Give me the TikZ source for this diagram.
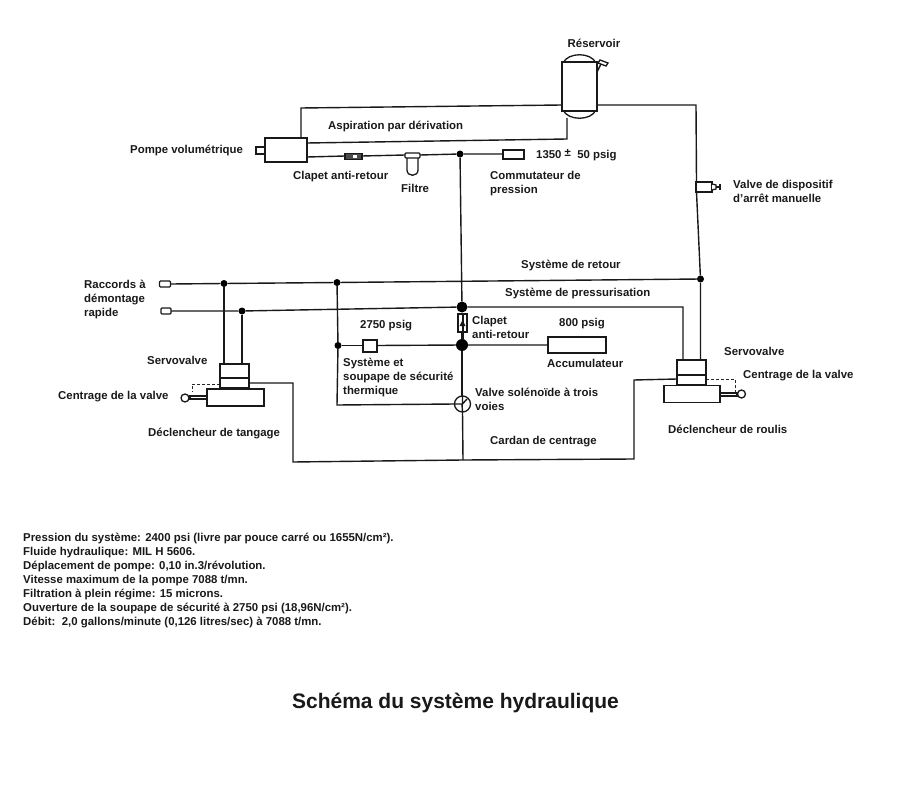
\documentclass[tikz,border=0pt]{standalone}
\usepackage{fontspec}
\setmainfont{Liberation Sans}
\begin{document}
\begin{tikzpicture}[x=1pt,y=-1pt,
  lab/.style={font=\fontsize{11.4}{14}\bfseries\selectfont,anchor=west,align=left,inner sep=0pt,text=black!90,yshift=-1pt},
  labc/.style={lab,anchor=center,align=center},
  pipe/.style={line width=1.4pt,draw=black!90},
  comp/.style={draw=black!90,line width=1.3pt,fill=white,inner sep=0pt},
  jdot/.style={circle,fill=black,inner sep=0pt,minimum size=#1},
  dashpipe/.style={line width=1pt,draw=black!85,dash pattern=on 3pt off 2pt}]
\useasboundingbox (0,0) rectangle (910,786);

% --- junction points
\coordinate (resL) at (562,105);
\coordinate (resR) at (597,105);
\coordinate (resB) at (567,118);
\coordinate (corner1) at (301,108);
\coordinate (corner2) at (567,139);
\coordinate (corner3) at (696,105);
\coordinate (pumpT) at (301,138);
\coordinate (pumpR1) at (307,143);
\coordinate (pumpR2) at (307,157);
\coordinate (retE) at (700.5,279);
\coordinate (preE) at (683,307);
\coordinate (tl) at (293,383);
\coordinate (tb) at (293,462);
\coordinate (rl) at (634,380);
\coordinate (rb) at (634,459);
\coordinate (bm) at (463,460);
\coordinate (svc) at (337,405);
\coordinate (dashA) at (192,384);
\coordinate (dashB) at (192,392);
\coordinate (dashC) at (735,379);
\coordinate (dashD) at (735,392);
\coordinate (dashE) at (220,384);
\coordinate (dashF) at (706,379);

% --- junction dots
\node[jdot=7pt] (j1) at (460,154) {};
\node[jdot=11pt] (j2) at (462,307) {};
\node[jdot=12pt] (j3) at (462,345) {};
\node[jdot=7pt] (j4) at (224,283.5) {};
\node[jdot=7pt] (j5) at (337,282.5) {};
\node[jdot=7pt] (j6) at (242,311) {};
\node[jdot=7pt] (j7) at (338,345.5) {};
\node[jdot=7pt] (j8) at (700.5,279) {};

% --- pipes
\draw[pipe] (pumpT) -- (corner1) -- (resL);
\draw[pipe] (resR) -- (corner3) -- (696.5,182);
\draw[pipe] (696.5,192) -- (j8) -- (700.5,360);
\draw[pipe] (pumpR1) -- (corner2) -- (resB);
\draw[pipe] (pumpR2) -- (345,156);
\draw[pipe] (362,156) -- (405,155);
\draw[pipe] (420,155) -- (j1) -- (503,154);
\draw[pipe] (j1) -- (j2);
\draw[pipe] (j2) -- (j3);
\draw[pipe] (171,284) -- (j4) -- (j5) -- (retE);
\draw[pipe] (171,311) -- (j6) -- (j2) -- (preE) -- (683,360);
\draw[pipe] (j4) -- (224,364);
\draw[pipe] (j6) -- (242,364);
\draw[pipe] (j5) -- (j7) -- (svc) -- (455,404);
\draw[pipe] (j7) -- (363,345.5);
\draw[pipe] (377,345.5) -- (j3) -- (548,345);
\draw[pipe] (j3) -- (462,396);
\draw[pipe] (462.5,412) -- (bm);
\draw[pipe] (249,383) -- (tl) -- (tb) -- (bm) -- (rb) -- (rl) -- (677,379);
\draw[dashpipe] (dashE) -- (dashA) -- (dashB);
\draw[dashpipe] (dashF) -- (dashC) -- (dashD);

% --- reservoir
\draw[comp] (563,63) .. controls (568,52) and (591,52) .. (596,63) -- cycle;
\draw[comp] (563,110) .. controls (568,121) and (591,121) .. (596,110) -- cycle;
\node[comp,minimum width=35pt,minimum height=49pt] (res) at (579.5,86.5) {};
\draw[pipe] (597,72) -- (602,62);
\draw[comp] (600,60) -- (608,63) -- (606,66) -- (598,63) -- cycle;

% --- pump and line components
\node[comp,minimum width=42pt,minimum height=24pt] (pump) at (286,150) {};
\node[comp,minimum width=9pt,minimum height=7pt] (pumpnub) at (260.5,150.5) {};
\node[comp,fill=black!70,minimum width=17pt,minimum height=6pt] (check1) at (353.5,156.5) {};
\node[fill=white,inner sep=0pt,minimum width=4pt,minimum height=3pt] (check1w) at (355,156.5) {};
\draw[comp] (407,158) -- (407,170) .. controls (407,177) and (418,177) .. (418,170) -- (418,158);
\draw[comp,rounded corners=1pt] (405,153) rectangle (420,158);
\node[comp,minimum width=21pt,minimum height=9pt] (switch) at (513.5,154.5) {};
\node[comp,minimum width=16pt,minimum height=10pt] (shutoff) at (704,187) {};
\draw[comp] (712,184) -- (716,185) -- (716,189) -- (712,190);
\draw[pipe] (716,187) -- (720,187);
\draw[pipe] (720,184) -- (720,190);
\node[comp,minimum width=9pt,minimum height=18pt] (check2) at (462.5,323) {};
\draw[line width=2pt,draw=black!90] (462.5,313) -- (462.5,340);
\fill[black!90] (459.5,326) -- (465.5,326) -- (462.5,320) -- cycle;
\node[comp,minimum width=14pt,minimum height=12pt] (relief) at (370,346) {};
\node[comp,minimum width=58pt,minimum height=16pt] (accu) at (577,345) {};

% --- solenoid valve
\node[comp,circle,minimum size=16pt] (sol) at (462.5,404) {};
\draw[pipe] (455,404) -- (462,404) -- (462.5,412);
\draw[pipe] (462.5,396) -- (462.5,404) -- (467,399);

% --- quick disconnects
\node[comp,rounded corners=1pt,minimum width=11pt,minimum height=6pt] (qd1) at (165,284) {};
\node[comp,rounded corners=1pt,minimum width=10pt,minimum height=6pt] (qd2) at (166,311) {};

% --- left servo
\node[comp,minimum width=29pt,minimum height=14pt] (svlA) at (234.5,371) {};
\node[comp,minimum width=29pt,minimum height=10pt] (svlB) at (234.5,383) {};
\node[comp,minimum width=57pt,minimum height=17pt] (actl) at (235.5,397.5) {};
\draw[comp] (190,396) rectangle (207,399);
\node[comp,circle,minimum size=8pt] (knobl) at (185,398) {};

% --- right servo
\node[comp,minimum width=29pt,minimum height=15pt] (svrA) at (691.5,367.5) {};
\node[comp,minimum width=29pt,minimum height=10pt] (svrB) at (691.5,380) {};
\node[comp,minimum width=56pt,minimum height=17pt] (actr) at (692,394) {};
\draw[comp] (720,393) rectangle (737,396);
\node[comp,circle,minimum size=8pt] (knobr) at (741.5,394) {};

% --- labels
\node[labc] (t1) at (594,42) {Réservoir};
\node[lab] (t2) at (328,126) {Aspiration par dérivation};
\node[lab] (t3) at (130,150) {Pompe volumétrique};
\node[lab] (t4) at (293,176) {Clapet anti-retour};
\node[lab] (t5) at (401,187) {Filtre};
\node[lab] (t6) at (536,154) {1350 \raisebox{2.5pt}{±}\ \ 50 psig};
\node[lab] (t7) at (490,183) {Commutateur de\\pression};
\node[lab] (t8) at (733,190) {Valve de dispositif\\d'arrêt manuelle};
\node[lab] (t9) at (521,265) {Système de retour};
\node[lab] (t10) at (505,293) {Système de pressurisation};
\node[lab] (t11) at (84,299) {Raccords à\\démontage\\rapide};
\node[lab] (t12) at (472,326) {Clapet\\anti-retour};
\node[lab] (t13) at (360,325) {2750 psig};
\node[lab] (t14) at (559,323) {800 psig};
\node[lab] (t15) at (343,377) {Système et\\soupape de sécurité\\thermique};
\node[lab] (t16) at (547,362) {Accumulateur};
\node[lab] (t17) at (475,398) {Valve solénoïde à trois\\voies};
\node[lab] (t18) at (147,359) {Servovalve};
\node[lab] (t19) at (724,350) {Servovalve};
\node[lab] (t20) at (58,396) {Centrage de la valve};
\node[lab] (t21) at (743,375) {Centrage de la valve};
\node[lab] (t22) at (148,433) {Déclencheur de tangage};
\node[lab] (t23) at (668,428) {Déclencheur de roulis};
\node[lab] (t24) at (490,441) {Cardan de centrage};
\node[lab] (notes) at (23,580) {Pression du système: 2400 psi (livre par pouce carré ou 1655N/cm²).\\
Fluide hydraulique: MIL H 5606.\\
Déplacement de pompe: 0,10 in.3/révolution.\\
Vitesse maximum de la pompe 7088 t/mn.\\
Filtration à plein régime: 15 microns.\\
Ouverture de la soupape de sécurité à 2750 psi (18,96N/cm²).\\
Débit:\ \ 2,0 gallons/minute (0,126 litres/sec) à 7088 t/mn.};
\node[labc,font=\fontsize{21}{24}\bfseries\selectfont] (title) at (455.5,702) {Schéma du système hydraulique};
\end{tikzpicture}
\end{document}
